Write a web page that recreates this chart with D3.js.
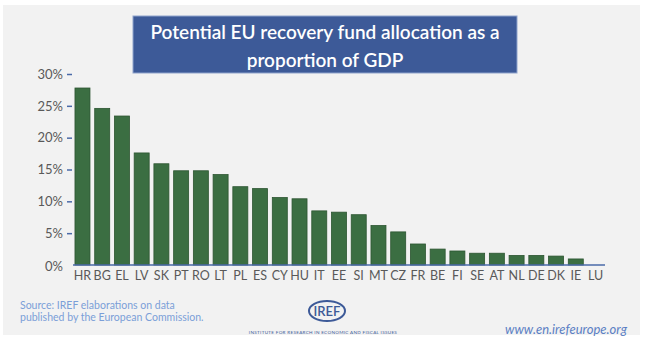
<!DOCTYPE html>
<html><head><meta charset="utf-8">
<script src="https://cdn.jsdelivr.net/npm/d3@7"></script>
<style>body{margin:0;background:#fff;}svg{display:block;}</style>
</head><body>
<script>
const categories = ["HR","BG","EL","LV","SK","PT","RO","LT","PL","ES","CY","HU","IT","EE","SI","MT","CZ","FR","BE","FI","SE","AT","NL","DE","DK","IE","LU"];
const values = [27.8,24.6,23.4,17.6,15.9,14.8,14.8,14.2,12.3,12.0,10.6,10.4,8.5,8.3,7.9,6.2,5.2,3.3,2.5,2.2,1.85,1.85,1.5,1.5,1.4,0.95,0];
const yTicks = [0,5,10,15,20,25,30];
const titleLines = ["Potential EU recovery fund allocation as a","proportion of GDP"];
const sourceLines = ["Source: IREF elaborations on data","published by the European Commission."];

const W=650,H=350;
const font="Lato, 'Open Sans', sans-serif";
const svg=d3.select("body").append("svg").attr("width",W).attr("height",H);
svg.append("rect").attr("width",W).attr("height",H).attr("fill","#fff");
svg.append("rect").attr("x",3).attr("y",5).attr("width",637).attr("height",330).attr("fill","#f2f2f2");

// title
svg.append("rect").attr("x",133).attr("y",16).attr("width",384).attr("height",57)
  .attr("fill","#3d5a98").attr("stroke","#8fa3cc").attr("stroke-width",1);
svg.append("g").selectAll("text").data(titleLines).join("text")
  .attr("x",325).attr("y",(d,i)=>39+i*28).attr("text-anchor","middle")
  .attr("fill","#fff").attr("font-family",font).attr("font-size",19).attr("font-weight",600)
  .text(d=>d);

const x=d3.scaleBand().domain(categories).range([73,605]).paddingInner(0.24).paddingOuter(0.1);
const y=d3.scaleLinear().domain([0,30]).range([265,74]);

svg.append("g").selectAll("rect").data(values).join("rect")
  .attr("x",(d,i)=>x(categories[i])).attr("width",x.bandwidth())
  .attr("y",d=>y(d)).attr("height",d=>y(0)-y(d))
  .attr("fill","#3b6e42").attr("stroke","#2c5531").attr("stroke-width",0.8);

// baseline
svg.append("line").attr("x1",73).attr("x2",605).attr("y1",y(0)).attr("y2",y(0))
  .attr("stroke","#4a6aa8").attr("stroke-width",1.5);

// y axis
const yAxis=d3.axisLeft(y).tickValues(yTicks).tickFormat(d=>d+"%").tickSize(5).tickPadding(4);
const gy=svg.append("g").attr("transform","translate(72,0)").call(yAxis);
gy.select(".domain").remove();
gy.selectAll(".tick line").attr("stroke","#4a6aa8").attr("stroke-width",1.5)
  .attr("opacity",d=>d===0?0:1);
gy.selectAll(".tick text").attr("fill","#595959").attr("font-family",font).attr("font-size",13);
gy.selectAll(".tick").filter(d=>d===0).select("text").attr("dy","0.45em");

// x axis labels
const xAxis=d3.axisBottom(x).tickSize(0).tickPadding(6);
const gx=svg.append("g").attr("transform",`translate(0,${y(0)})`).call(xAxis);
gx.select(".domain").remove();
gx.selectAll(".tick text").attr("fill","#595959").attr("font-family",font).attr("font-size",12.5);

// footer
svg.append("g").selectAll("text").data(sourceLines).join("text")
  .attr("x",20).attr("y",(d,i)=>309+i*12).attr("fill","#7b9fd8")
  .attr("font-family",font).attr("font-size",10.5).text(d=>d);
svg.append("text").attr("x",627).attr("y",334).attr("text-anchor","end")
  .attr("fill","#5b7fc4").attr("font-family",font).attr("font-style","italic").attr("font-size",13)
  .text("www.en.irefeurope.org");
// logo
const lg=svg.append("g");
lg.append("ellipse").attr("cx",327).attr("cy",311).attr("rx",18).attr("ry",10)
  .attr("fill","none").attr("stroke","#3d5a98").attr("stroke-width",2);
lg.append("text").attr("x",327).attr("y",316).attr("text-anchor","middle").attr("fill","#3d5a98")
  .attr("font-family",font).attr("font-size",13).attr("font-weight",600).text("IREF");
lg.append("text").attr("x",323).attr("y",334).attr("text-anchor","middle").attr("fill","#3d5a98")
  .attr("font-family",font).attr("font-size",4.6).attr("letter-spacing",0.3)
  .text("INSTITUTE FOR RESEARCH IN ECONOMIC AND FISCAL ISSUES");
</script>
</body></html>
